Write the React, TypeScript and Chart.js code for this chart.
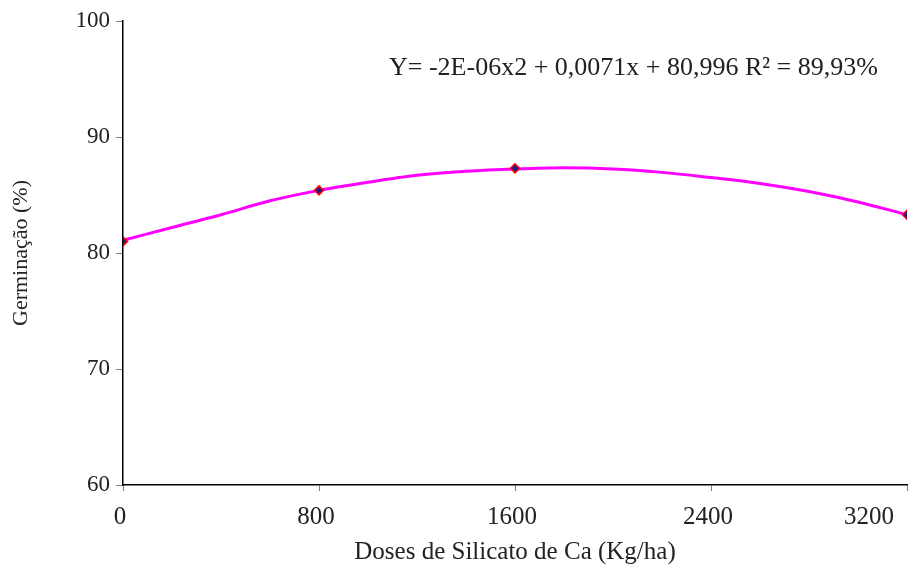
import React, { useEffect, useRef } from "react";
import { Chart, registerables } from "chart.js";

Chart.register(...registerables);

const curveDoses = [0, 200, 400, 600, 800, 1000, 1200, 1400, 1600, 1800, 2000, 2200, 2400, 2600, 2800, 3000, 3200];
const curveGerm = [81.1, 82.2, 83.3, 84.5, 85.4, 86.1, 86.7, 87.05, 87.25, 87.35, 87.25, 86.95, 86.5, 86.0, 85.3, 84.4, 83.3];
const obsDoses = [0, 800, 1600, 3200];
const obsGerm = [81.0, 85.4, 87.3, 83.3];
const xTicks = [0, 800, 1600, 2400, 3200];
const yTicks = [60, 70, 80, 90, 100];
const equationText = "Y= -2E-06x2 + 0,0071x + 80,996 R² = 89,93%";
const xTitle = "Doses de Silicato de Ca (Kg/ha)";
const yTitle = "Germinação (%)";

const FONT = "'Liberation Serif', 'Times New Roman', serif";

export default function App() {
  const ref = useRef<HTMLCanvasElement | null>(null);
  useEffect(() => {
    document.body.style.margin = "0";
    const canvas = ref.current;
    if (!canvas) return;
    const eqPlugin = {
      id: "eq",
      afterDraw(chart: any) {
        const ctx = chart.ctx;
        ctx.save();
        ctx.font = `26px ${FONT}`;
        ctx.fillStyle = "#222";
        ctx.textBaseline = "alphabetic";
        ctx.textAlign = "left";
        ctx.fillText(equationText, 389, 75);
        // x tick labels (last one kept inside the canvas, as in the source)
        const xs = chart.scales.x;
        ctx.font = `25px ${FONT}`;
        ctx.textBaseline = "middle";
        xTicks.forEach((v, i) => {
          const px = xs.getPixelForValue(v);
          const last = i === xTicks.length - 1;
          ctx.textAlign = last ? "right" : "center";
          ctx.fillText(String(v), last ? px - 13 : px - 3, 517);
        });
        ctx.restore();
      },
    };
    const chart = new Chart(canvas, {
      type: "scatter",
      data: {
        datasets: [
          {
            label: "curve",
            data: curveDoses.map((x, i) => ({ x, y: curveGerm[i] })),
            showLine: true,
            borderColor: "#FF00FF",
            borderWidth: 3,
            pointRadius: 0,
            tension: 0.4,
            cubicInterpolationMode: "monotone",
            order: 2,
          } as any,
          {
            label: "obs",
            data: obsDoses.map((x, i) => ({ x, y: obsGerm[i] })),
            showLine: false,
            pointStyle: "rectRot",
            pointRadius: 4.5,
            backgroundColor: "#1a1a8c",
            borderColor: "#FF0000",
            borderWidth: 1.5,
            order: 1,
          } as any,
        ],
      },
      options: {
        animation: false,
        responsive: false,
        devicePixelRatio: 1,
        layout: { padding: { top: 21, right: 1, left: 0, bottom: 0 } },
        plugins: {
          legend: { display: false },
          tooltip: { enabled: false },
        },
        scales: {
          x: {
            type: "linear",
            min: 0,
            max: 3200,
            afterBuildTicks: (s: any) => {
              s.ticks = xTicks.map((v) => ({ value: v }));
            },
            afterFit: (s: any) => {
              s.height = 82;
              s.paddingLeft = 0;
              s.paddingRight = 0;
            },
            ticks: {
              display: false,
              font: { family: FONT, size: 25 },
              color: "#222",
              padding: 13,
              maxRotation: 0,
              callback: (v: any) => String(v),
            },
            grid: {
              drawOnChartArea: false,
              drawTicks: true,
              tickLength: 6,
              color: "#808080",
            },
            border: { display: true, color: "#000", width: 1.5 },
            title: {
              display: true,
              text: xTitle,
              font: { family: FONT, size: 25 },
              color: "#222",
              padding: 0,
            },
          },
          y: {
            type: "linear",
            min: 60,
            max: 100,
            afterBuildTicks: (s: any) => {
              s.ticks = yTicks.map((v) => ({ value: v }));
            },
            afterFit: (s: any) => {
              s.width = 123;
              s.paddingTop = 0;
              s.paddingBottom = 0;
            },
            ticks: {
              font: { family: FONT, size: 23 },
              color: "#222",
              padding: 6,
              callback: (v: any) => String(v),
            },
            grid: {
              drawOnChartArea: false,
              drawTicks: true,
              tickLength: 7,
              color: "#808080",
            },
            border: { display: true, color: "#000", width: 1.5 },
            title: {
              display: true,
              text: yTitle,
              font: { family: FONT, size: 22 },
              color: "#222",
              padding: 8,
            },
          },
        },
      } as any,
      plugins: [eqPlugin],
    });
    return () => chart.destroy();
  }, []);
  return <canvas ref={ref} width={913} height={567} style={{ display: "block" }} />;
}
